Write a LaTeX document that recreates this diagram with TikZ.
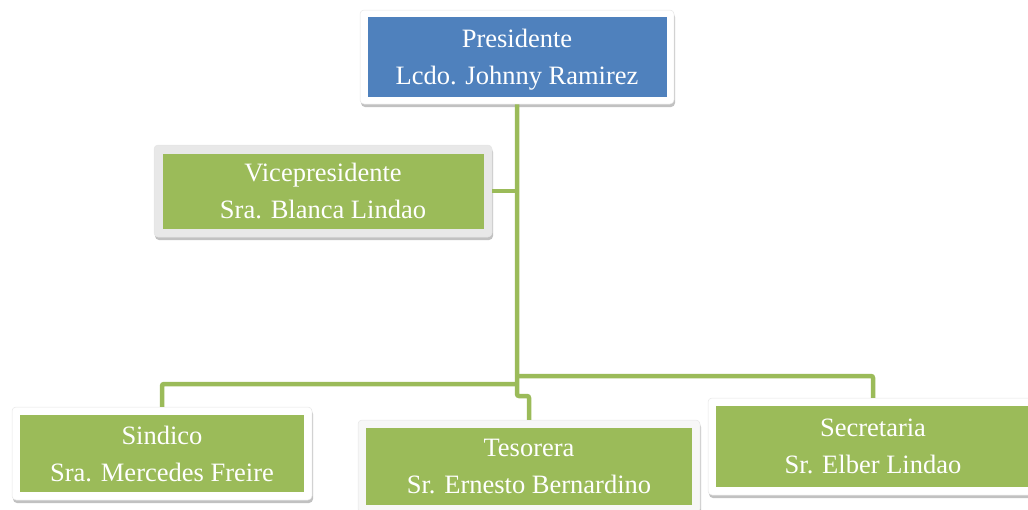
\documentclass[tikz,border=0pt]{standalone}
\usepackage{fontspec}
\setmainfont{Liberation Serif}
\usetikzlibrary{shadows}
\definecolor{pblue}{HTML}{4F81BD}
\definecolor{pgreen}{HTML}{9BBB59}
\begin{document}
\begin{tikzpicture}[x=1pt,y=-1pt,
 frame/.style={draw=black!10, line width=0.5pt, fill=white, rounded corners=4pt,
   drop shadow={shadow xshift=1pt, shadow yshift=-3pt, opacity=0.35, fill=black!70}, inner sep=0pt},
 box/.style={inner sep=0pt, text=white, align=center, font=\fontsize{26.5}{37}\selectfont, text depth=0pt},
 link/.style={draw=pgreen, line width=4.5pt, rounded corners=2pt}]
\useasboundingbox (0,0) rectangle (1028,509);
% frames
\node[frame, minimum width=314pt, minimum height=94pt] (presF) at (517,57) {};
\node[frame, fill=black!9, minimum width=338pt, minimum height=92pt] (viceF) at (323,191) {};
\node[frame, minimum width=300pt, minimum height=93pt] (sinF) at (162,453.5) {};
\node[frame, fill=black!3, minimum width=342pt, minimum height=93pt] (tesF) at (529,466.5) {};
\node[frame, minimum width=330pt, minimum height=97pt] (secF) at (873,446.5) {};
% links
\coordinate (jsec) at (517,376);
\coordinate (jsin) at (517,384);
\coordinate (jtes) at (517,396);
\draw[link] (presF.south) -- (jtes) -- (jtes -| tesF.north) -- (tesF.north);
\draw[link] (viceF.east) -- (viceF.east -| presF.south);
\draw[link] (jsin) -| (sinF.north);
\draw[link] (jsec) -| (secF.north);
% inner boxes
\node[box, fill=pblue, minimum width=299pt, minimum height=80pt] (pres) at (presF) {Presidente\\Lcdo. Johnny Ramirez};
\node[box, fill=pgreen, minimum width=321pt, minimum height=75pt] (vice) at (viceF) {Vicepresidente\\Sra. Blanca Lindao};
\node[box, fill=pgreen, minimum width=284pt, minimum height=77pt] (sin) at (sinF) {Sindico\\Sra. Mercedes Freire};
\node[box, fill=pgreen, minimum width=326pt, minimum height=77pt] (tes) at (tesF) {Tesorera\\Sr. Ernesto Bernardino};
\node[box, fill=pgreen, minimum width=314pt, minimum height=81pt] (sec) at (secF) {Secretaria\\Sr. Elber Lindao};
\end{tikzpicture}
\end{document}
